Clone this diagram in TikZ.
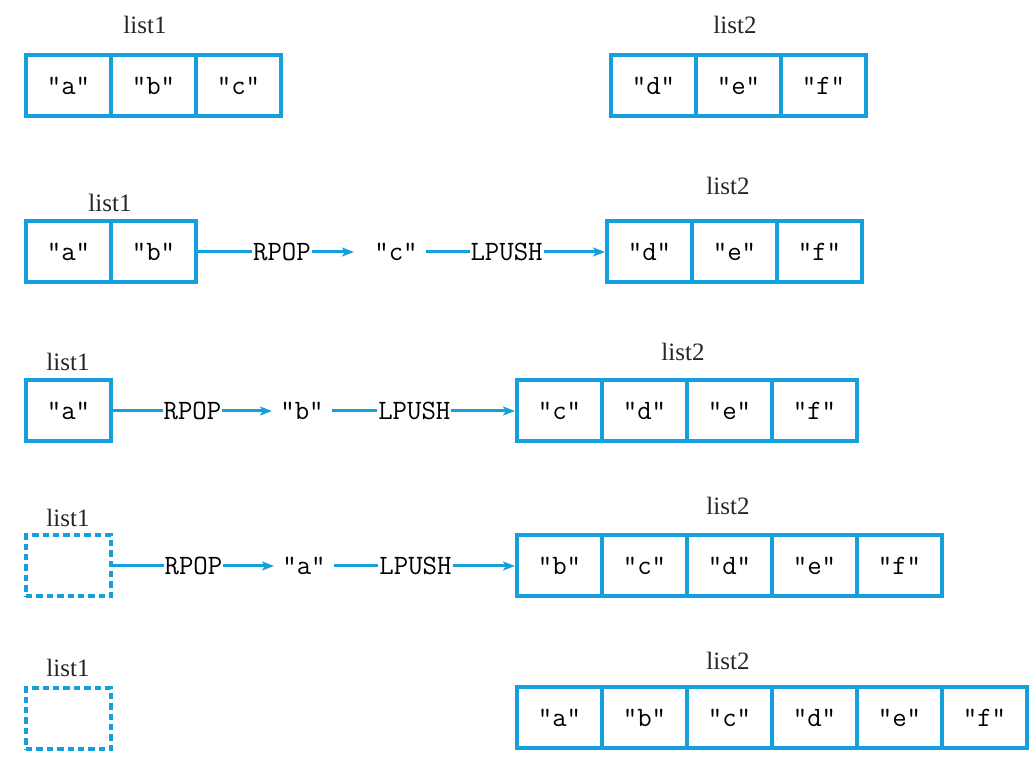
\documentclass[tikz,border=0pt]{standalone}
\usepackage{fontspec}
\setmainfont{Liberation Serif}
\usetikzlibrary{arrows.meta}
\definecolor{listblue}{RGB}{20,160,220}

\begin{document}
\begin{tikzpicture}[x=0.5pt,y=-0.5pt,
        cell/.style={draw=listblue,line width=2pt,minimum width=42.5pt,minimum height=30.5pt,inner sep=0pt,font=\ttfamily\fontsize{14}{16}\selectfont},
        emptycell/.style={cell,dash pattern=on 3.2pt off 2pt},
        listname/.style={text=black!85,font=\fontsize{12.5}{14}\selectfont},
        value/.style={inner sep=4pt,font=\ttfamily\fontsize{14}{16}\selectfont},
        op/.style={fill=white,inner sep=0.5pt,font=\ttfamily\fontsize{14}{16}\selectfont},
        link/.style={draw=listblue,line width=1.5pt},
        push/.style={link,-{Stealth[length=6pt,width=4.5pt,inset=1.5pt]}}]
        \useasboundingbox (0,0) rectangle (1030,763);
        % row 1: start
        \node[listname] (r1n1) at (145,25) {list1};
        \node[listname] (r1n2) at (735,25) {list2};
        \foreach \v [count=\i] in {a,b,c}
            \node[cell] (r1l1c\i) at ({26+85*\i-42.5},86) {"\v"};
        \foreach \v [count=\i] in {d,e,f}
            \node[cell] (r1l2c\i) at ({611+85*\i-42.5},86) {"\v"};
        % row 2: "c" moves
        \node[listname] (r2n1) at (110,203) {list1};
        \node[listname] (r2n2) at (728,186) {list2};
        \foreach \v [count=\i] in {a,b}
            \node[cell] (r2l1c\i) at ({26+85*\i-42.5},252) {"\v"};
        \foreach \v [count=\i] in {d,e,f}
            \node[cell] (r2l2c\i) at ({607+85*\i-42.5},252) {"\v"};
        \node[value] (r2v) at (396,252) {"c"};
        \draw[push,shorten >=6pt] (r2l1c2.east) -- node[op]{RPOP} (r2v.west);
        \draw[push] (r2v.east) -- node[op,pos=0.45]{LPUSH} (r2l2c1.west);
        % row 3: "b" moves
        \node[listname] (r3n1) at (68,362) {list1};
        \node[listname] (r3n2) at (683,352) {list2};
        \node[cell] (r3l1c1) at (68.5,411) {"a"};
        \foreach \v [count=\i] in {c,d,e,f}
            \node[cell] (r3l2c\i) at ({517+85*\i-42.5},411) {"\v"};
        \node[value] (r3v) at (302,411) {"b"};
        \draw[push] (r3l1c1.east) -- node[op]{RPOP} (r3v.west);
        \draw[push] (r3v.east) -- node[op,pos=0.45]{LPUSH} (r3l2c1.west);
        % row 4: "a" moves
        \node[listname] (r4n1) at (68,518) {list1};
        \node[listname] (r4n2) at (728,506) {list2};
        \node[emptycell] (r4l1c1) at (68.5,566) {};
        \foreach \v [count=\i] in {b,c,d,e,f}
            \node[cell] (r4l2c\i) at ({517+85*\i-42.5},566) {"\v"};
        \node[value] (r4v) at (304,566) {"a"};
        \draw[push] (r4l1c1.east) -- node[op]{RPOP} (r4v.west);
        \draw[push] (r4v.east) -- node[op,pos=0.45]{LPUSH} (r4l2c1.west);
        % row 5: end
        \node[listname] (r5n1) at (68,668) {list1};
        \node[listname] (r5n2) at (728,661) {list2};
        \node[emptycell] (r5l1c1) at (68.5,719) {};
        \foreach \v [count=\i] in {a,b,c,d,e,f}
            \node[cell] (r5l2c\i) at ({517+85*\i-42.5},718) {"\v"};
    \end{tikzpicture}
\end{document}
